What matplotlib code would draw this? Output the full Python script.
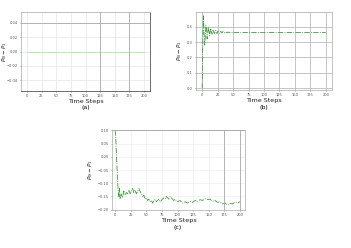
import matplotlib
matplotlib.use("Agg")
import matplotlib.pyplot as plt

# ---- data ----
t_a = [0, 50, 100, 150, 200]
v_a = [0.0, 0.0, 0.0, 0.0, 0.0]

t_b = list(range(0, 51)) + [55, 60, 65, 70, 75, 80, 85, 90, 95, 100, 110, 120, 130, 140, 150, 160, 170, 180, 190, 200]
v_b = [0.0, 0.30, 0.47, 0.36, 0.28, 0.33, 0.41, 0.38, 0.32, 0.36, 0.40, 0.37, 0.34, 0.37, 0.39, 0.36, 0.35, 0.375,
       0.38, 0.36, 0.355, 0.37, 0.375, 0.36, 0.355, 0.368, 0.372, 0.36, 0.357, 0.366, 0.37, 0.361, 0.358, 0.365,
       0.368, 0.362, 0.359, 0.364, 0.366, 0.362, 0.36, 0.363, 0.365, 0.362, 0.361, 0.363, 0.364, 0.362, 0.361,
       0.363, 0.362,
       0.362, 0.362, 0.362, 0.362, 0.362, 0.362, 0.362, 0.362, 0.362, 0.362, 0.362, 0.362, 0.362, 0.362, 0.362,
       0.362, 0.362, 0.362, 0.362, 0.362]

t_c = [0, 1, 2, 3, 4, 5, 6, 7, 8, 10, 12, 14, 16, 18, 20, 22, 24, 26, 28, 30, 32, 34, 36, 38, 40, 42, 44, 46, 48,
       50, 52, 54, 56, 58, 60, 62, 64, 66, 68, 70, 72, 74, 76, 78, 80, 82, 84, 86, 88, 90, 92, 94, 96, 98, 100,
       104, 108, 112, 116, 120, 124, 128, 132, 136, 140, 144, 148, 152, 156, 160, 164, 168, 172, 176, 180, 184,
       188, 192, 196, 200]
v_c = [0.10, 0.07, 0.02, -0.04, -0.09, -0.13, -0.15, -0.12, -0.16, -0.14, -0.155, -0.13, -0.145, -0.135, -0.14,
       -0.125, -0.14, -0.13, -0.12, -0.135, -0.125, -0.14, -0.13, -0.12, -0.13, -0.14, -0.15, -0.145, -0.16,
       -0.155, -0.165, -0.16, -0.17, -0.165, -0.175, -0.165, -0.16, -0.17, -0.165, -0.16, -0.17, -0.165, -0.16,
       -0.155, -0.16, -0.15, -0.155, -0.16, -0.15, -0.155, -0.16, -0.165, -0.16, -0.165, -0.17,
       -0.165, -0.175, -0.17, -0.175, -0.168, -0.172, -0.165, -0.17, -0.162, -0.165, -0.158, -0.162, -0.16,
       -0.168, -0.165, -0.172, -0.17, -0.178, -0.175, -0.182, -0.176, -0.178, -0.172, -0.175, -0.17]

xticks = [0, 25, 50, 75, 100, 125, 150, 175, 200]
yticks_a = [-0.04, -0.02, 0.00, 0.02, 0.04]
yticks_b = [0.0, 0.1, 0.2, 0.3, 0.4]
yticks_c = [-0.20, -0.15, -0.10, -0.05, 0.00, 0.05, 0.10]

W, H = 351, 248
fig = plt.figure(figsize=(W / 100, H / 100), dpi=100)


def box(l, t, r, b):
    return [l / W, 1 - b / H, (r - l) / W, (b - t) / H]


def style(ax, yticks, fmt, ylab_x):
    ax.set_xticks(xticks)
    ax.set_xticklabels([str(x) for x in xticks])
    ax.set_yticks(yticks)
    ax.set_yticklabels([fmt.format(y).replace("-", "\u2212") for y in yticks])
    ax.tick_params(labelsize=2.6, length=1.0, width=0.4, pad=1.2, colors="#555555")
    ax.grid(True, color="#e6e6e6", linewidth=0.5)
    for s in ax.spines.values():
        s.set_linewidth(0.5)
        s.set_color("#aaaaaa")
    ax.set_xlabel("Time Steps", fontsize=4.6, labelpad=0.5, color="#222222")
    ax.set_ylabel(r"$P_N - P_1$", fontsize=4.0, color="#222222")
    ax.yaxis.set_label_coords(ylab_x, 0.5)


ax1 = fig.add_axes(box(21, 12, 150, 91))
ax1.plot(t_a, v_a, color="#9be89b", linewidth=0.5)
ax1.set_xlim(-10, 210)
ax1.set_ylim(-0.055, 0.055)
style(ax1, yticks_a, "{:.2f}", -0.095)
ax1.axhline(0.04, color="#aaaaaa", linewidth=0.6)
ax1.axvline(125, color="#aaaaaa", linewidth=0.6)
ax1.axvline(175, color="#aaaaaa", linewidth=0.6)
ax1.spines["right"].set_color("#333333")
ax1.spines["bottom"].set_color("#333333")
fig.text(85.5 / W, 1 - 108 / H, "(a)", fontsize=4.5, ha="center", va="center")

ax2 = fig.add_axes(box(196, 12, 332, 90))
ax2.plot(t_b, v_b, color="#3f9a3f", linewidth=0.6, linestyle="-.")
ax2.set_xlim(-10, 210)
ax2.set_ylim(-0.012, 0.495)
style(ax2, yticks_b, "{:.1f}", -0.085)
ax2.grid(True, color="#bbbbbb", linewidth=0.6)
fig.text(264 / W, 1 - 108 / H, "(b)", fontsize=4.5, ha="center", va="center")

ax3 = fig.add_axes(box(112, 130, 245, 210))
ax3.plot(t_c, v_c, color="#3f9a3f", linewidth=0.6, linestyle="-.")
ax3.set_xlim(-5, 208)
ax3.set_ylim(-0.201, 0.101)
style(ax3, yticks_c, "{:.2f}", -0.13)
ax3.grid(True, color="#eeeeee", linewidth=0.5)
ax3.axhline(0.10, color="#aaaaaa", linewidth=0.6)
ax3.axvline(175, color="#aaaaaa", linewidth=0.6)
ax3.axvline(200, color="#aaaaaa", linewidth=0.6)
fig.text(178 / W, 1 - 228 / H, "(c)", fontsize=4.5, ha="center", va="center")

fig.savefig("out.png", dpi=100)
